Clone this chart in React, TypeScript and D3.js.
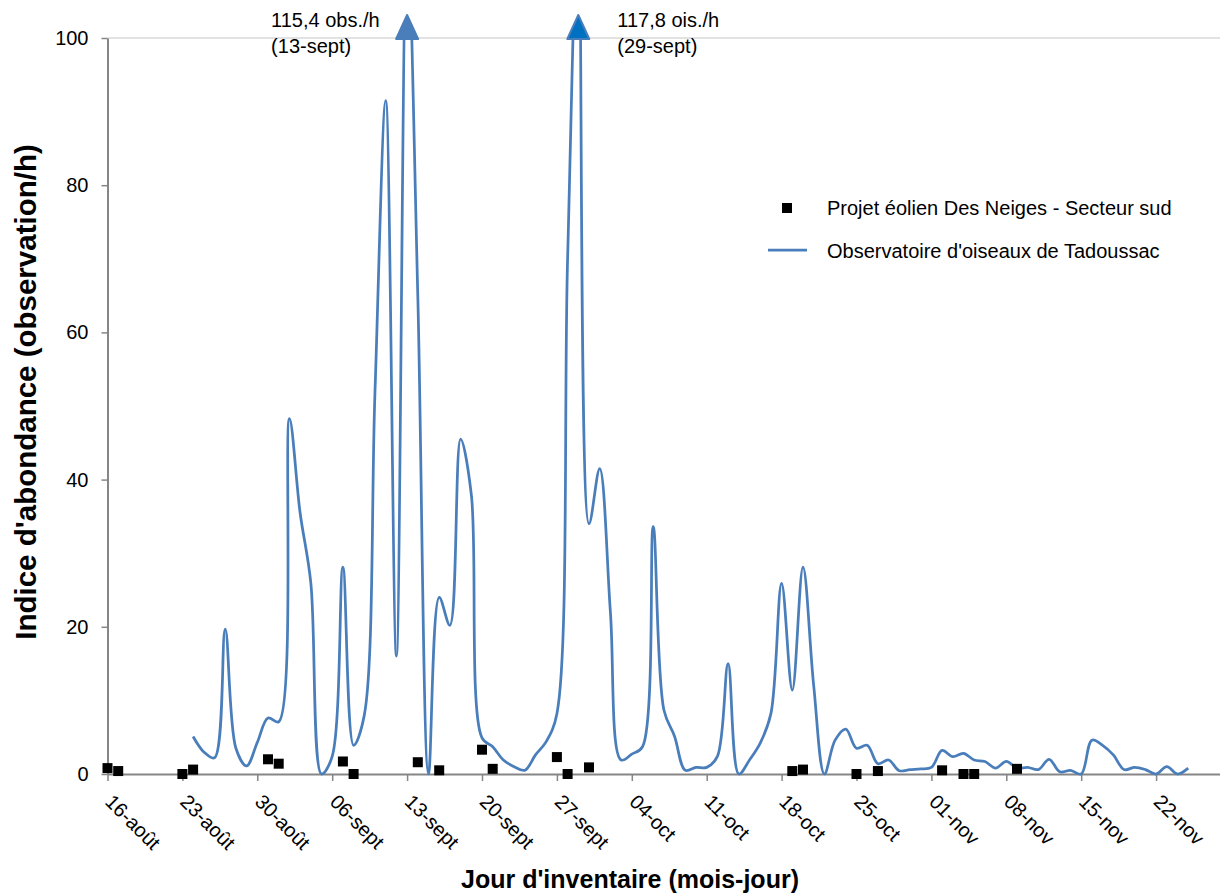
import { useEffect, useRef } from "react";
import * as d3 from "d3";

const FONT = "'Liberation Sans Narrow', 'Arial Narrow', 'Liberation Sans', Arial, sans-serif";

// x axis: weekly ticks
const tickDates = ["08-16", "08-23", "08-30", "09-06", "09-13", "09-20", "09-27", "10-04", "10-11", "10-18", "10-25", "11-01", "11-08", "11-15", "11-22"];
const tickLabels = ["16-août", "23-août", "30-août", "06-sept", "13-sept", "20-sept", "27-sept", "04-oct", "11-oct", "18-oct", "25-oct", "01-nov", "08-nov", "15-nov", "22-nov"];
const yTicks = [0, 20, 40, 60, 80, 100];

// Projet éolien Des Neiges - Secteur sud (squares)
const eolienDates = ["08-16", "08-17", "08-23", "08-24", "08-31", "09-01", "09-07", "09-08", "09-14", "09-16", "09-20", "09-21", "09-27", "09-28", "09-30", "10-19", "10-20", "10-25", "10-27", "11-02", "11-04", "11-05", "11-09"];
const eolienValues = [0.8, 0.4, 0, 0.6, 2.0, 1.4, 1.7, 0, 1.6, 0.5, 3.3, 0.7, 2.3, 0, 0.9, 0.4, 0.6, 0, 0.4, 0.5, 0, 0, 0.7];

// Observatoire d'oiseaux de Tadoussac (smoothed line)
const tadoussacDates = [
  "08-24", "08-25", "08-26", "08-27", "08-28", "08-29", "08-30", "08-31",
  "09-01", "09-02", "09-03", "09-04", "09-05", "09-06", "09-07", "09-08", "09-09", "09-10",
  "09-11", "09-12", "09-13", "09-14", "09-15", "09-16", "09-17", "09-18", "09-19", "09-20",
  "09-21", "09-22", "09-23", "09-24", "09-25", "09-26", "09-27", "09-28", "09-29", "09-30",
  "10-01", "10-02", "10-03", "10-04", "10-05", "10-06", "10-07", "10-08", "10-09", "10-10",
  "10-11", "10-12", "10-13", "10-14", "10-15", "10-16", "10-17", "10-18", "10-19", "10-20",
  "10-21", "10-22", "10-23", "10-24", "10-25", "10-26", "10-27", "10-28", "10-29", "10-30", "10-31",
  "11-01", "11-02", "11-03", "11-04", "11-05", "11-06", "11-07", "11-08", "11-09", "11-10",
  "11-11", "11-12", "11-13", "11-14", "11-15", "11-16", "11-17", "11-18", "11-19", "11-20",
  "11-21", "11-22", "11-23", "11-24", "11-25",
];
const tadoussacValues = [
  5.1, 3.0, 2.2, 19.7, 3.5, 1.1, 4.3, 7.6,
  7.1, 48.3, 35.5, 26, 0, 2.4, 28.1, 3.9, 8, 52,
  91.5, 16, 115.4, 65, 0, 24, 20.2, 45.5, 38, 4.9,
  3.7, 1.9, 1.0, 0.5, 2.6, 4.4, 8.2, 70, 117.8, 34,
  41.5, 22, 1.9, 2.7, 3.7, 33.6, 8.7, 5.1, 0.5, 0.9,
  0.9, 2.4, 15, 0, 1.9, 4.2, 8.2, 25.9, 11.4, 28.1,
  12, 0, 4.6, 6.1, 3.5, 3.9, 1.4, 1.9, 0.45, 0.6, 0.7,
  0.9, 3.2, 2.35, 2.8, 1.9, 1.7, 0.8, 1.7, 0.8, 0.9,
  0.6, 2.0, 0.3, 0.5, 0, 4.6, 3.9, 2.6, 0.6, 0.9,
  0.6, 0, 1.0, 0, 0.8,
];

// off-scale peaks
const peakDates = ["09-13", "09-29"];
const peakLines = [["115,4 obs./h", "(13-sept)"], ["117,8 ois./h", "(29-sept)"]];

const legendLabels = ["Projet éolien Des Neiges - Secteur sud", "Observatoire d'oiseaux de Tadoussac"];

const parse = d3.timeParse("%m-%d");

export default function App() {
  const gx = useRef<SVGGElement>(null);
  const gy = useRef<SVGGElement>(null);

  const width = 1220;
  const height = 896;
  const x = d3.scaleTime([parse("08-16")!, parse("11-28")!], [107.5, 1220.3]);
  const y = d3.scaleLinear([0, 100], [774, 38]);

  const pts: [Date, number][] = tadoussacDates.map((d, i) => [parse(d)!, tadoussacValues[i]]);
  const path = d3
    .line<[Date, number]>()
    .x((d) => x(d[0]))
    .y((d) => y(d[1]))
    .curve(d3.curveCatmullRom.alpha(0.5))(pts);

  useEffect(() => {
    const ax = d3.select(gx.current!);
    ax.call(
      d3
        .axisBottom(x)
        .tickValues(tickDates.map((d) => parse(d)!))
        .tickFormat((_, i) => tickLabels[i])
        .tickSize(7)
        .tickSizeOuter(0) as any
    );
    ax.attr("font-family", FONT).attr("font-size", 20);
    ax.select(".domain").attr("stroke", "#868686").attr("stroke-width", 2);
    ax.selectAll(".tick line").attr("stroke", "#868686").attr("stroke-width", 1.5);
    ax.selectAll(".tick text")
      .attr("x", 0)
      .attr("y", 0)
      .attr("dy", 0)
      .attr("fill", "#000")
      .attr("text-anchor", "start")
      .attr("transform", "translate(-4,29) rotate(45)");

    const ay = d3.select(gy.current!);
    ay.call(d3.axisLeft(y).tickValues(yTicks).tickSize(6).tickPadding(13).tickSizeOuter(0) as any);
    ay.attr("font-family", FONT).attr("font-size", 20);
    ay.select(".domain").attr("stroke", "#868686").attr("stroke-width", 2);
    ay.selectAll(".tick line").attr("stroke", "#868686").attr("stroke-width", 1.5);
    ay.selectAll(".tick text").attr("fill", "#000");
  }, [x, y]);

  return (
    <svg width={width} height={height} style={{ position: "absolute", left: 0, top: 0, background: "#fff" }}>
      <defs>
        <clipPath id="plot">
          <rect x={107} y={y(100)} width={1115} height={y(0) - y(100) + 3} />
        </clipPath>
      </defs>
      <line x1={107.5} x2={1220} y1={y(100)} y2={y(100)} stroke="#D9D9D9" strokeWidth={1.5} />
      <g ref={gx} transform={`translate(0,${y(0)})`} />
      <g ref={gy} transform={`translate(107.5,0)`} />
      {path && <path d={path} fill="none" stroke="#4A7EBB" strokeWidth={2.75} clipPath="url(#plot)" />}
      {peakDates.map((d, i) => {
        const px = x(parse(d)!);
        const py = y(100);
        return (
          <path
            key={d}
            d={`M${px - 11},${py + 1}L${px + 11},${py + 1}L${px},${py - 23}Z`}
            fill={i === 0 ? "#4A7EBB" : "#0070C0"}
            stroke="#4A7EBB"
            strokeWidth={2}
            strokeLinejoin="round"
          />
        );
      })}
      {eolienDates.map((d, i) => (
        <rect key={d} x={x(parse(d)!) - 5} y={y(eolienValues[i]) - 5} width={10} height={10} fill="#000" />
      ))}
      <g fontFamily={FONT} fontSize={20} fill="#000">
        {peakDates.map((d, i) => {
          const px = x(parse(d)!);
          const tx = i === 0 ? px - 136 : px + 39;
          return (
            <text key={d} x={tx} y={27}>
              <tspan x={tx}>{peakLines[i][0]}</tspan>
              <tspan x={tx} y={53}>{peakLines[i][1]}</tspan>
            </text>
          );
        })}
        <rect x={782} y={203} width={10} height={10} fill="#000" />
        <text x={827} y={215}>{legendLabels[0]}</text>
        <line x1={768} x2={807} y1={250} y2={250} stroke="#4A7EBB" strokeWidth={2.75} />
        <text x={827} y={258}>{legendLabels[1]}</text>
      </g>
      <g fontFamily={FONT} fontWeight="bold" fill="#000" textAnchor="middle">
        <text x={630} y={888} fontSize={25}>Jour d'inventaire (mois-jour)</text>
        <text fontSize={29.5} transform={`translate(36,392) rotate(-90)`}>Indice d'abondance (observation/h)</text>
      </g>
    </svg>
  );
}
